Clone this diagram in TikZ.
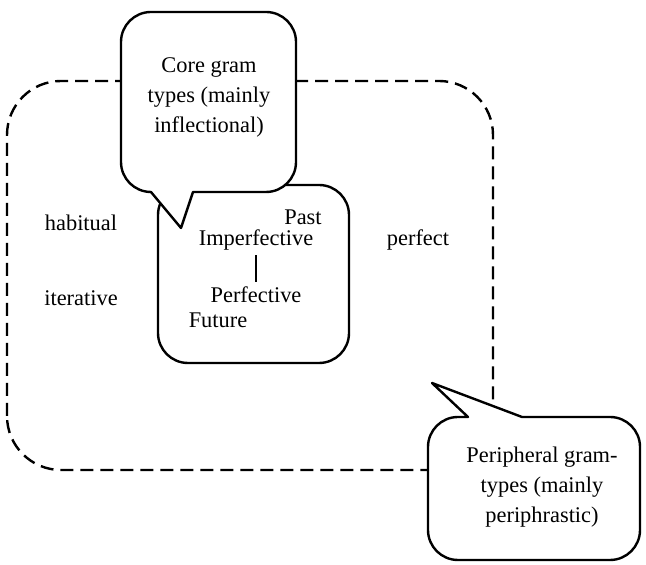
\documentclass[tikz,border=0pt]{standalone}
\usepackage{fontspec}
\setmainfont{Liberation Serif}
\usetikzlibrary{positioning}

\begin{document}
\begin{tikzpicture}
	[x=0.5pt,y=0.5pt,line width=1.2pt,
	gram node/.style={font=\fontsize{11.2}{15}\selectfont,inner sep=2pt,align=center},
	frame line/.style={dash pattern=on 6.5pt off 3.5pt,rounded corners=27pt},
	callout/.style={fill=white,line join=round}
	]
	\useasboundingbox (0,0) rectangle (646,565);

	% inner box and dashed frame
	\draw[rounded corners=15pt] (158,202) rectangle (349,380);
	\draw[frame line] (7,95) rectangle (493,484);

	% core callout
	\draw[callout] (151,373) -- (181,337) -- (193,373) -- (266,373)
	arc[start angle=-90,end angle=0,radius=30] -- (296,523)
	arc[start angle=0,end angle=90,radius=30] -- (151,553)
	arc[start angle=90,end angle=180,radius=30] -- (121,403)
	arc[start angle=180,end angle=270,radius=30] -- cycle;

	% peripheral callout
	\draw[callout] (468,148) -- (432,182) -- (522,148) -- (610,148)
	arc[start angle=90,end angle=0,radius=30] -- (640,35)
	arc[start angle=0,end angle=-90,radius=30] -- (458,5)
	arc[start angle=270,end angle=180,radius=30] -- (428,118)
	arc[start angle=180,end angle=90,radius=30] -- cycle;

	\node [gram node] (core) at (209,468) {Core gram\\types (mainly\\inflectional)};
	\node [gram node] (periph) at (542,78) {Peripheral gram-\\types (mainly\\periphrastic)};

	\node [gram node] (habit) at (81,342) {habitual};
	\node [gram node] (iter) at (81,267) {iterative};
	\node [gram node] (perfect) at (418,325) {perfect};

	\node [gram node] (past) at (303,348) {Past};
	\node [gram node] (imperf) at (256,325) {Imperfective};
	\node [gram node] (perf) at (256,270) {Perfective};
	\node [gram node] (fut) at (218,245) {Future};

	\draw[line width=0.8pt] (imperf) -- (perf);
\end{tikzpicture}
\end{document}
